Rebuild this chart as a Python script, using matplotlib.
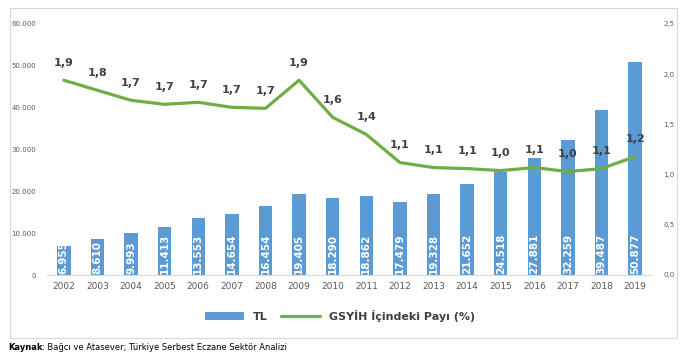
import matplotlib as mpl
mpl.use('Agg')
import matplotlib.pyplot as plt
from matplotlib.patches import Rectangle
from matplotlib.transforms import offset_copy
import numpy as np

FONT = ['Liberation Sans Narrow', 'DejaVu Sans']
plt.rcParams['font.family'] = FONT

years = [str(y) for y in range(2002, 2020)]
tl_values = [6955, 8610, 9993, 11413, 13553, 14654, 16454, 19405, 18290,
             18862, 17479, 19328, 21652, 24518, 27881, 32259, 39487, 50877]
gdp_share = [1.94, 1.84, 1.74, 1.70, 1.72, 1.67, 1.66, 1.94, 1.57,
             1.40, 1.12, 1.07, 1.06, 1.04, 1.07, 1.03, 1.06, 1.18]
left_ticks = [0, 10000, 20000, 30000, 40000, 50000, 60000]
right_ticks = [0.0, 0.5, 1.0, 1.5, 2.0, 2.5]

BAR_COL = '#5b9bd5'
LINE_COL = '#70ad47'
TXT_COL = '#595959'

fig = plt.figure(figsize=(6.88, 3.55), dpi=100)
fig.patches.append(Rectangle((10 / 688, 1 - 338 / 355), 667 / 688, 330 / 355,
                             transform=fig.transFigure, fill=False,
                             ec='#d9d9d9', lw=0.8))

ax = fig.add_axes([47 / 688, 1 - 275 / 355, 605 / 688, 251 / 355])
x = np.arange(len(years))
bars = ax.bar(x, tl_values, width=0.4, color=BAR_COL, zorder=2)
ax.set_xlim(-0.5, len(years) - 0.5)
ax.set_ylim(0, 60000)
ax.set_yticks(left_ticks)
ax.set_yticklabels(['{:,}'.format(v).replace(',', '.') for v in left_ticks])
ax.set_xticks(x)
ax.set_xticklabels(years)
ax.tick_params(axis='y', length=0, labelsize=5, colors=TXT_COL, pad=8)
ax.tick_params(axis='x', length=0, labelsize=6.5, colors=TXT_COL, pad=5)
for s in ['top', 'right', 'left']:
  ax.spines[s].set_visible(False)
ax.spines['bottom'].set_color('#d9d9d9')

for xi, v in zip(x, tl_values):
  ax.text(xi, 300, '{:,}'.format(v).replace(',', '.'), rotation=90,
          ha='center', va='bottom', color='white', fontsize=7.5,
          fontweight='bold', zorder=3)

ax2 = ax.twinx()
ax2.set_ylim(0, 2.5)
ax2.set_yticks(right_ticks)
ax2.set_yticklabels(['{:.1f}'.format(v).replace('.', ',') for v in right_ticks])
ax2.tick_params(axis='y', length=0, labelsize=5, colors=TXT_COL, pad=8)
for s in ['top', 'right', 'left', 'bottom']:
  ax2.spines[s].set_visible(False)
line, = ax2.plot(x, gdp_share, color=LINE_COL, lw=2.3, solid_capstyle='round', zorder=3)
for xi, v in zip(x, gdp_share):
  ax2.annotate('{:.1f}'.format(round(v, 1)).replace('.', ','), (xi, v),
               xytext=(0, 9), textcoords='offset points', ha='center',
               va='bottom', fontsize=8, fontweight='bold', color='#404040')

fig.legend([bars, line], ['TL', 'GSYİH İçindeki Payı (%)'], loc='center',
           bbox_to_anchor=(340 / 688, 1 - 316 / 355), ncol=2, frameon=False,
           handlelength=3.5, columnspacing=1.2,
           labelcolor='#404040', prop={'weight': 'bold', 'size': 8})

t1 = fig.text(8 / 688, 1 - 347 / 355, 'Kaynak', fontsize=6, va='center',
              fontweight='bold')
fig.canvas.draw()
w = t1.get_window_extent().width
fig.text(8 / 688 + w / 688, 1 - 347 / 355,
         ': Bağcı ve Atasever; Türkiye Serbest Eczane Sektör Analizi',
         fontsize=6, va='center', color='black')

fig.savefig('out.png', dpi=100)
